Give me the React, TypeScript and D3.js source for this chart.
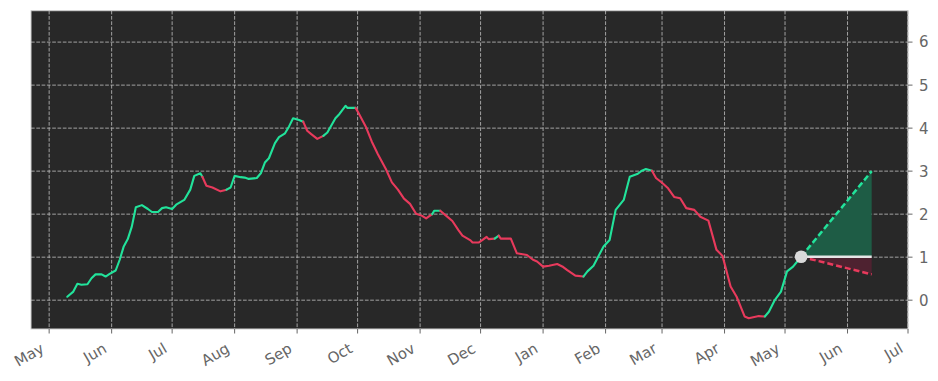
import React from "react";
import * as d3 from "d3";

// ---- data ----
const dates: string[] = [
  "2022-05-10","2022-05-13","2022-05-15","2022-05-17","2022-05-20","2022-05-22","2022-05-24","2022-05-27","2022-05-29","2022-05-31",
  "2022-06-03","2022-06-05","2022-06-07","2022-06-09","2022-06-11","2022-06-13","2022-06-16","2022-06-19","2022-06-21","2022-06-24",
  "2022-06-26","2022-06-28","2022-07-01","2022-07-03","2022-07-07","2022-07-10","2022-07-12","2022-07-15","2022-07-16","2022-07-18",
  "2022-07-21","2022-07-25","2022-07-28","2022-07-30","2022-08-01","2022-08-04","2022-08-06","2022-08-08","2022-08-12","2022-08-14",
  "2022-08-16","2022-08-18","2022-08-21","2022-08-23","2022-08-26","2022-08-28","2022-08-30","2022-09-02","2022-09-04","2022-09-06",
  "2022-09-08","2022-09-11","2022-09-14","2022-09-16","2022-09-20","2022-09-22","2022-09-25","2022-09-26","2022-09-30","2022-10-01",
  "2022-10-05","2022-10-08","2022-10-11","2022-10-15","2022-10-18","2022-10-21","2022-10-24","2022-10-27","2022-10-30","2022-11-02",
  "2022-11-04","2022-11-07","2022-11-08","2022-11-11","2022-11-14","2022-11-17","2022-11-20","2022-11-22","2022-11-26","2022-11-27",
  "2022-11-30","2022-12-02","2022-12-04","2022-12-05","2022-12-08","2022-12-10","2022-12-11","2022-12-16","2022-12-19","2022-12-24",
  "2022-12-27","2022-12-29","2023-01-01","2023-01-04","2023-01-08","2023-01-11","2023-01-13","2023-01-17","2023-01-21","2023-01-23",
  "2023-01-26","2023-01-31","2023-02-03","2023-02-06","2023-02-10","2023-02-13","2023-02-17","2023-02-19","2023-02-21","2023-02-24",
  "2023-02-26","2023-03-01","2023-03-04","2023-03-07","2023-03-10","2023-03-13","2023-03-17","2023-03-20","2023-03-24","2023-03-28",
  "2023-03-31","2023-04-04","2023-04-07","2023-04-11","2023-04-13","2023-04-18","2023-04-21","2023-04-23","2023-04-26","2023-04-29",
  "2023-05-02","2023-05-05","2023-05-09",
];
const values: number[] = [
  0.08,0.2,0.38,0.36,0.37,0.51,0.6,0.6,0.55,0.61,
  0.69,0.94,1.25,1.42,1.71,2.16,2.21,2.12,2.05,2.05,
  2.14,2.16,2.12,2.22,2.33,2.57,2.89,2.95,2.87,2.66,
  2.62,2.53,2.57,2.62,2.89,2.86,2.85,2.82,2.84,2.95,
  3.2,3.3,3.65,3.79,3.88,4.04,4.23,4.19,4.15,3.94,
  3.86,3.75,3.82,3.9,4.23,4.33,4.52,4.47,4.47,4.39,
  4.04,3.69,3.4,3.05,2.74,2.57,2.36,2.24,2.01,1.96,
  1.9,2.0,2.08,2.08,1.96,1.84,1.63,1.5,1.39,1.34,
  1.34,1.4,1.47,1.42,1.43,1.5,1.43,1.43,1.09,1.05,
  0.94,0.9,0.78,0.8,0.84,0.77,0.7,0.57,0.55,0.67,
  0.8,1.25,1.4,2.1,2.33,2.87,2.94,3.01,3.05,3.01,
  2.84,2.73,2.6,2.4,2.37,2.14,2.1,1.94,1.85,1.17,
  1.03,0.32,0.08,-0.38,-0.42,-0.37,-0.38,-0.27,0.01,0.2,
  0.67,0.78,1.01,
];
// 1 = rising (green), -1 = falling (red); colours the segment ending at that point
const trend: number[] = [
  1,1,1,1,1,1,1,1,1,1,
  1,1,1,1,1,1,1,1,1,1,
  1,1,1,1,1,1,1,1,1,-1,
  -1,-1,-1,1,1,1,1,1,1,1,
  1,1,1,1,1,1,1,1,1,-1,
  -1,-1,-1,1,1,1,1,1,1,-1,
  -1,-1,-1,-1,-1,-1,-1,-1,-1,-1,
  -1,-1,1,1,-1,-1,-1,-1,-1,-1,
  -1,-1,-1,-1,-1,1,-1,-1,-1,-1,
  -1,-1,-1,-1,-1,-1,-1,-1,-1,1,
  1,1,1,1,1,1,1,1,1,1,
  -1,-1,-1,-1,-1,-1,-1,-1,-1,-1,
  -1,-1,-1,-1,-1,-1,-1,1,1,1,
  1,1,1,
];
const forecastEnd = "2023-06-13";
const forecastUpper = 3.0;
const forecastLower = 0.6;
const yTicks: number[] = [0, 1, 2, 3, 4, 5, 6];
const xDomain: string[] = ["2022-04-22", "2023-07-01"];
const yDomain: number[] = [-0.67, 6.73];
const monthTickStart = "2022-05-01";
const monthTickEnd = "2023-07-01";

const W = 938, H = 381;
const L = 31, R = 908, T = 10.7, B = 329;
const GREEN = "#22e39b";
const RED = "#e83a5c";
const parse = d3.timeParse("%Y-%m-%d");

export default function App() {
  const x = d3.scaleTime().domain(xDomain.map((s) => parse(s)!)).range([L, R]);
  const y = d3.scaleLinear().domain(yDomain).range([B, T]);
  const pts = dates.map((d, i) => ({ d: parse(d)!, v: values[i], t: trend[i] }));
  const months = d3.timeMonth.range(parse(monthTickStart)!, d3.timeDay.offset(parse(monthTickEnd)!, 1));
  const fmt = d3.timeFormat("%b");
  const line = d3.line<{ d: Date; v: number }>().x((p) => x(p.d)).y((p) => y(p.v));

  // group consecutive segments of same colour
  const groups: { color: string; pts: typeof pts }[] = [];
  for (let i = 1; i < pts.length; i++) {
    const c = pts[i].t > 0 ? GREEN : RED;
    const last = groups[groups.length - 1];
    if (last && last.color === c) last.pts.push(pts[i]);
    else groups.push({ color: c, pts: [pts[i - 1], pts[i]] });
  }
  const lastPt = pts[pts.length - 1];
  const fe = parse(forecastEnd)!;
  const cx = x(lastPt.d), cy = y(lastPt.v);
  const ex = x(fe);

  return (
    <div style={{ position: "absolute", left: 0, top: 0 }}>
      <svg width={W} height={H} style={{ display: "block", background: "#fff" }}
        fontFamily="DejaVu Sans, sans-serif">
        <rect x={L} y={T} width={R - L} height={B - T} fill="#282828" />
        {/* grid */}
        {months.map((m, i) => (
          <line key={"gx" + i} x1={x(m)} x2={x(m)} y1={T} y2={B}
            stroke="#b0b0b0" strokeWidth={0.9} strokeDasharray="3.7,1.6" />
        ))}
        {yTicks.map((t) => (
          <line key={"gy" + t} x1={L} x2={R} y1={y(t)} y2={y(t)}
            stroke="#b0b0b0" strokeWidth={0.9} strokeDasharray="3.7,1.6" />
        ))}
        {/* forecast fills */}
        <path d={`M${cx},${cy}L${ex},${y(forecastUpper)}L${ex},${cy}Z`} fill="#1e5c45" />
        <path d={`M${cx},${cy}L${ex},${y(forecastLower)}L${ex},${cy}Z`} fill="#4e2230" />
        {/* history */}
        {groups.map((g, i) => (
          <path key={"l" + i} d={line(g.pts) || ""} fill="none" stroke={g.color}
            strokeWidth={2.1} strokeLinejoin="round" strokeLinecap="round" />
        ))}
        {/* forecast lines */}
        <line x1={cx} y1={cy} x2={ex} y2={y(forecastUpper)} stroke={GREEN} strokeWidth={2.5} strokeDasharray="6,3" />
        <line x1={cx} y1={cy} x2={ex} y2={y(forecastLower)} stroke={RED} strokeWidth={2.5} strokeDasharray="6,3" />
        <line x1={cx} y1={cy} x2={ex} y2={cy} stroke="#e6e6e6" strokeWidth={2.5} />
        <circle cx={cx} cy={cy} r={6.3} fill="#d9d9d9" />
        {/* frame */}
        <rect x={L} y={T} width={R - L} height={B - T} fill="none" stroke="#cfcfcf" strokeWidth={1} />
        {/* x ticks */}
        {months.map((m, i) => (
          <g key={"xt" + i}>
            <line x1={x(m)} x2={x(m)} y1={B} y2={B + 4.5} stroke="#666" strokeWidth={1} />
            <text transform={`translate(${x(m) - 4},${B + 22.5}) rotate(-30)`} textAnchor="end"
              fontSize={15} fill="#666">{fmt(m)}</text>
          </g>
        ))}
        {/* y ticks */}
        {yTicks.map((t) => (
          <g key={"yt" + t}>
            <line x1={R} x2={R + 4.5} y1={y(t)} y2={y(t)} stroke="#666" strokeWidth={1} />
            <text x={R + 11} y={y(t)} dy="0.36em" fontSize={15} fill="#666">{t}</text>
          </g>
        ))}
      </svg>
    </div>
  );
}
